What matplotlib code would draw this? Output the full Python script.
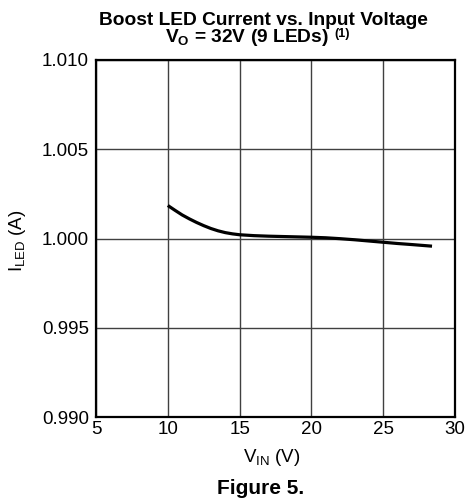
import numpy as np
import matplotlib
matplotlib.use("Agg")
import matplotlib.pyplot as plt

plt.rcParams['font.family'] = ['Liberation Sans', 'DejaVu Sans']

# data
vin = [10.0, 10.5, 11.0, 11.5, 12.0, 12.5, 13.0, 13.5, 14.0, 14.5, 15.0, 16.0, 17.0,
       18.0, 19.0, 20.0, 21.0, 22.0, 23.0, 24.0, 25.0, 26.0, 27.0, 28.4]
iled = [1.00185, 1.00158, 1.00132, 1.00110, 1.00090, 1.00072, 1.00056, 1.00043, 1.00033,
        1.00026, 1.00021, 1.00016, 1.00013, 1.00011, 1.00009, 1.00007, 1.00004, 0.99999,
        0.99993, 0.99986, 0.99979, 0.99972, 0.99966, 0.99957]

xticks = [5, 10, 15, 20, 25, 30]
yticks = [0.990, 0.995, 1.000, 1.005, 1.010]

W, H = 468, 501
fig = plt.figure(figsize=(W / 100, H / 100), dpi=100)
ax = fig.add_axes([96 / W, 1 - 417 / H, (455 - 96) / W, (417 - 60) / H])

ax.plot(vin, iled, color='black', lw=2.3, solid_capstyle='butt')

ax.set_xlim(5, 30)
ax.set_ylim(0.990, 1.010)
ax.set_xticks(xticks)
ax.set_yticks(yticks)
ax.set_yticklabels(['%.3f' % v for v in yticks])
ax.tick_params(length=0, labelsize=13.5)
ax.tick_params(axis='y', pad=5)
ax.tick_params(axis='x', pad=3)
ax.grid(True, color='#404040', lw=1.0)
for s in ax.spines.values():
    s.set_linewidth(1.6)

fig.text(272 / W, 1 - 458 / H, r'V$_\mathregular{IN}$ (V)', ha='center', va='center',
         fontsize=13.5)
fig.text(18 / W, 1 - 241 / H, r'I$_\mathregular{LED}$ (A)', ha='center', va='center',
         fontsize=13.5, rotation=90)

# title: two lines plus a footnote mark
fig.text(263 / W, 1 - 25 / H, 'Boost LED Current vs. Input Voltage', ha='center',
         va='baseline', fontsize=13.8, fontweight='bold')
fig.text(247 / W, 1 - 42 / H, r'V$_\mathregular{O}$ = 32V (9 LEDs)', ha='center',
         va='baseline', fontsize=13.8, fontweight='bold')
fig.text(342 / W, 1 - 37 / H, '(1)', ha='center', va='baseline', fontsize=9,
         fontweight='bold')
fig.text(261 / W, 1 - 488 / H, 'Figure 5.', ha='center', va='center', fontsize=15,
         fontweight='bold')

fig.savefig('out.png', dpi=100)
